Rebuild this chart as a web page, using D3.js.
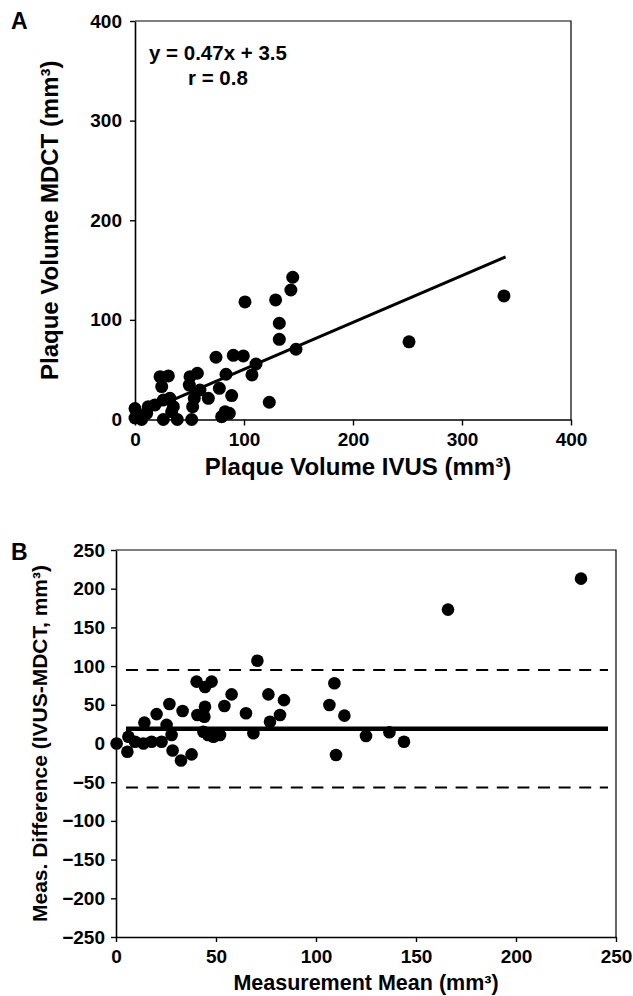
<!DOCTYPE html>
<html>
<head>
<meta charset="utf-8">
<script src="https://cdn.jsdelivr.net/npm/d3@7"></script>
<style>
  body { margin: 0; background: #fff; }
  svg { display: block; }
  text { font-family: "Liberation Sans", Arial, sans-serif; font-weight: bold; fill: #000; }
</style>
</head>
<body>
<svg id="chart"></svg>
<script>
// Panel A: plaque volume, IVUS (x) vs MDCT (y), mm³
const ivusA = [0, 0, 4.6, 6.1, 10.7, 12.2, 18.3, 23, 30.6, 24.5, 26, 32, 35.2, 33.6, 26, 38.8, 52, 52.9,
  54.4, 49.8, 50.5, 57.2, 59.6, 67.3, 74.3, 77.4, 79.5, 82.6, 86.5, 88.7, 83.5, 90.2, 99.4, 100.9,
  107.3, 111, 123.2, 129, 132.4, 132.4, 143, 144.7, 147.7, 251.4, 338.5];
const mdctA = [11, 1.5, 4.5, 0, 6.2, 12.9, 14.6, 43, 43.7, 33, 19.6, 21.3, 12.9, 7.8, 0, 0, 0, 12.9,
  21.3, 34.6, 43, 46.4, 29.6, 21.3, 62.5, 31.3, 2.8, 7.8, 6.2, 24, 45.4, 64.4, 63.8, 118,
  44.7, 55.7, 17.3, 120, 96.6, 80.5, 130, 142.8, 70.5, 78, 124];
const slopeA = 0.47, interceptA = 3.5;
const fitRangeA = [0, 340];
const ticksA = [0, 100, 200, 300, 400];

// Panel B: Bland-Altman, mean (x) vs difference (y)
const meanB = [0.3, 5.7, 6.2, 9.5, 13.7, 14.2, 17.8, 20.3, 22.8, 25.3, 26.7, 27.8, 28.3, 32.5, 37.8,
  33.3, 40.3, 44.5, 47.8, 40.7, 44.5, 44.2, 43.7, 46, 48.7, 52, 54.2, 57.8, 65, 68.7, 70.7, 76.2,
  77, 82, 84, 106.7, 109.2, 110, 114.2, 125, 136.7, 144, 166, 232.5];
const diffB = [0, -10.6, 8.8, 2.3, 0, 27, 2.3, 38, 2.3, 24, 51, 11, -9, -22, -14,
  42, 80, 73, 80, 36.8, 47.5, 34.6, 15.2, 11, 8.8, 11, 48.4, 63.5, 39, 13.2, 107, 63.5,
  28, 36.8, 56, 49.7, 77.8, -14.9, 36, 9.7, 14.5, 2.3, 173, 213];
const biasB = 19, upperB = 95, lowerB = -57;
const refRangeB = [5, 246];
const xTicksB = [0, 50, 100, 150, 200, 250];
const yTicksB = [250, 200, 150, 100, 50, 0, -50, -100, -150, -200, -250];

const W = 633, H = 996;
const svg = d3.select('#chart').attr('width', W).attr('height', H);

function axisStyle(g) {
  g.selectAll('.domain').attr('stroke', '#000').attr('stroke-width', 1.6);
  g.selectAll('.tick line').attr('stroke', '#000').attr('stroke-width', 1.4);
  g.selectAll('.tick text').attr('font-size', 19).attr('font-family', null);
}

// ---------- Panel A ----------
const xA = d3.scaleLinear().domain([0, 400]).range([135, 571]);
const yA = d3.scaleLinear().domain([0, 400]).range([419.5, 21]);

// box top/right
svg.append('path')
  .attr('d', `M${xA(0)},${yA(400)}H${xA(400)}V${yA(0)}`)
  .attr('fill', 'none').attr('stroke', '#000').attr('stroke-width', 1.2);

svg.append('g')
  .attr('transform', `translate(0,${yA(0)})`)
  .call(d3.axisBottom(xA).tickValues(ticksA).tickSize(6).tickSizeOuter(0).tickPadding(7))
  .call(axisStyle);

svg.append('g')
  .attr('transform', `translate(${xA(0)},0)`)
  .call(d3.axisLeft(yA).tickValues(ticksA).tickSize(5).tickSizeOuter(0).tickPadding(8))
  .call(axisStyle);

svg.append('line')
  .attr('x1', xA(fitRangeA[0])).attr('y1', yA(slopeA * fitRangeA[0] + interceptA))
  .attr('x2', xA(fitRangeA[1])).attr('y2', yA(slopeA * fitRangeA[1] + interceptA))
  .attr('stroke', '#000').attr('stroke-width', 3);

svg.append('g').selectAll('circle')
  .data(ivusA.map((v, i) => [v, mdctA[i]]))
  .join('circle')
  .attr('cx', d => xA(d[0]))
  .attr('cy', d => yA(d[1]))
  .attr('r', 6.5)
  .attr('fill', '#000');

svg.append('text').attr('x', 149).attr('y', 60).attr('font-size', 20.5).text('y = 0.47x + 3.5');
svg.append('text').attr('x', 188).attr('y', 85).attr('font-size', 20.5).text('r = 0.8');

svg.append('text').attr('x', 11).attr('y', 29).attr('font-size', 23).text('A');

svg.append('text')
  .attr('transform', `translate(58,${(yA(0) + yA(400)) / 2}) rotate(-90)`)
  .attr('text-anchor', 'middle').attr('font-size', 24)
  .text('Plaque Volume MDCT (mm³)');

svg.append('text')
  .attr('x', 358).attr('y', 475)
  .attr('text-anchor', 'middle').attr('font-size', 24)
  .text('Plaque Volume IVUS (mm³)');

// ---------- Panel B ----------
const xB = d3.scaleLinear().domain([0, 250]).range([116, 616]);
const yB = d3.scaleLinear().domain([-250, 250]).range([937, 550]);

svg.append('path')
  .attr('d', `M${xB(0)},${yB(250)}H${xB(250)}V${yB(-250)}`)
  .attr('fill', 'none').attr('stroke', '#000').attr('stroke-width', 1.2);

svg.append('g')
  .attr('transform', `translate(0,${yB(-250)})`)
  .call(d3.axisBottom(xB).tickValues(xTicksB).tickSize(5).tickSizeOuter(0).tickPadding(8))
  .call(axisStyle);

svg.append('g')
  .attr('transform', `translate(${xB(0)},0)`)
  .call(d3.axisLeft(yB).tickValues(yTicksB).tickSize(5).tickSizeOuter(0).tickPadding(6))
  .call(axisStyle);

[upperB, lowerB].forEach(v => {
  svg.append('line')
    .attr('x1', xB(refRangeB[0])).attr('x2', xB(refRangeB[1]))
    .attr('y1', yB(v)).attr('y2', yB(v))
    .attr('stroke', '#000').attr('stroke-width', 2)
    .attr('stroke-dasharray', '12,8.6');
});

svg.append('line')
  .attr('x1', xB(refRangeB[0])).attr('x2', xB(refRangeB[1]))
  .attr('y1', yB(biasB)).attr('y2', yB(biasB))
  .attr('stroke', '#000').attr('stroke-width', 4.5);

svg.append('g').selectAll('circle')
  .data(meanB.map((v, i) => [v, diffB[i]]))
  .join('circle')
  .attr('cx', d => xB(d[0]))
  .attr('cy', d => yB(d[1]))
  .attr('r', 6.3)
  .attr('fill', '#000');

svg.append('text').attr('x', 11).attr('y', 560).attr('font-size', 23).text('B');

svg.append('text')
  .attr('transform', `translate(47,${(yB(-250) + yB(250)) / 2}) rotate(-90)`)
  .attr('text-anchor', 'middle').attr('font-size', 21)
  .text('Meas. Difference (IVUS-MDCT, mm³)');

svg.append('text')
  .attr('x', 366).attr('y', 990)
  .attr('text-anchor', 'middle').attr('font-size', 21.5)
  .text('Measurement Mean (mm³)');
</script>
</body>
</html>
